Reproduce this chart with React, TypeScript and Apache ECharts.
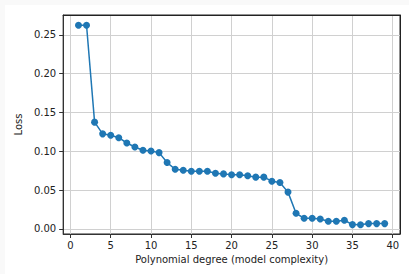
import React, { useEffect, useRef } from "react";
import * as echarts from "echarts";

const degrees = [1,2,3,4,5,6,7,8,9,10,11,12,13,14,15,16,17,18,19,20,21,22,23,24,25,26,27,28,29,30,31,32,33,34,35,36,37,38,39];
const losses = [0.2625,0.2625,0.1376,0.1225,0.1208,0.1175,0.1107,0.1055,0.1013,0.1004,0.0983,0.0855,0.0769,0.0756,0.0744,0.0744,0.0744,0.0718,0.0709,0.0697,0.0697,0.0684,0.0667,0.0667,0.0615,0.0598,0.0474,0.0201,0.0137,0.0137,0.0128,0.0098,0.0098,0.0111,0.0055,0.0053,0.0068,0.0068,0.0068];
const xTitle = "Polynomial degree (model complexity)";
const yTitle = "Loss";

export default function App() {
  const ref = useRef<HTMLDivElement>(null);
  useEffect(() => {
    document.body.style.margin = "0";
    const chart = echarts.init(ref.current!, null, { renderer: "svg" });
    const font = "DejaVu Sans";
    const spine = { show: true, onZero: false, lineStyle: { color: "#333", width: 1 } };
    const spine2 = { show: true, onZero: false, lineStyle: { color: "#222", width: 1 } };
    chart.setOption({
      animation: false,
      backgroundColor: "#ffffff",
      grid: { left: 57, top: 10, right: 9, bottom: 40, show: true, borderColor: "#222", borderWidth: 1, backgroundColor: "transparent" },
      xAxis: [
        {
          type: "value",
          min: -0.9,
          max: 40.9,
          splitNumber: 8,
          name: xTitle,
          nameLocation: "middle",
          nameGap: 20,
          nameTextStyle: { fontFamily: font, fontSize: 10, color: "#222" },
          axisLine: spine,
          axisTick: { show: true, length: 4, lineStyle: { color: "#333" } },
          axisLabel: {
            fontFamily: font, fontSize: 10, color: "#222", margin: 6,
            showMinLabel: false, showMaxLabel: false,
            formatter: (v: number) => (Math.abs(v % 5) < 1e-9 ? String(v) : ""),
          },
          splitLine: { show: true, showMinLine: false, showMaxLine: false, lineStyle: { color: "#d0d0d0", width: 1 } },
        },
        {
          type: "value",
          position: "top",
          min: -0.9,
          max: 40.9,
          axisLine: spine2,
          axisTick: { show: false },
          axisLabel: { show: false },
          splitLine: { show: false },
          z: 10,
        },
      ],
      yAxis: [
        {
          type: "value",
          min: -0.0066,
          max: 0.2757,
          splitNumber: 6,
          name: yTitle,
          nameLocation: "middle",
          nameGap: 32,
          nameRotate: 90,
          nameTextStyle: { fontFamily: font, fontSize: 10, color: "#222" },
          axisLine: spine,
          axisTick: { show: true, length: 4, lineStyle: { color: "#333" } },
          axisLabel: {
            fontFamily: font, fontSize: 10, color: "#222", margin: 7,
            showMinLabel: false, showMaxLabel: false,
            formatter: (v: number) => v.toFixed(2),
          },
          splitLine: { show: true, showMinLine: false, showMaxLine: false, lineStyle: { color: "#d0d0d0", width: 1 } },
        },
        {
          type: "value",
          position: "right",
          min: -0.0066,
          max: 0.2757,
          axisLine: spine2,
          axisTick: { show: false },
          axisLabel: { show: false },
          splitLine: { show: false },
          z: 10,
        },
      ],
      series: [
        {
          type: "line",
          xAxisIndex: 0,
          yAxisIndex: 0,
          data: degrees.map((d, i) => [d, losses[i]]),
          symbol: "circle",
          symbolSize: 7,
          showSymbol: true,
          lineStyle: { color: "#1f77b4", width: 1.5 },
          itemStyle: { color: "#1f77b4" },
        },
      ],
    });
    return () => chart.dispose();
  }, []);
  return (
    <div style={{ width: 409, height: 274, background: "#f9f9f9", position: "relative" }}>
      <div ref={ref} style={{ position: "absolute", left: 5, top: 5, width: 404, height: 269 }} />
    </div>
  );
}
